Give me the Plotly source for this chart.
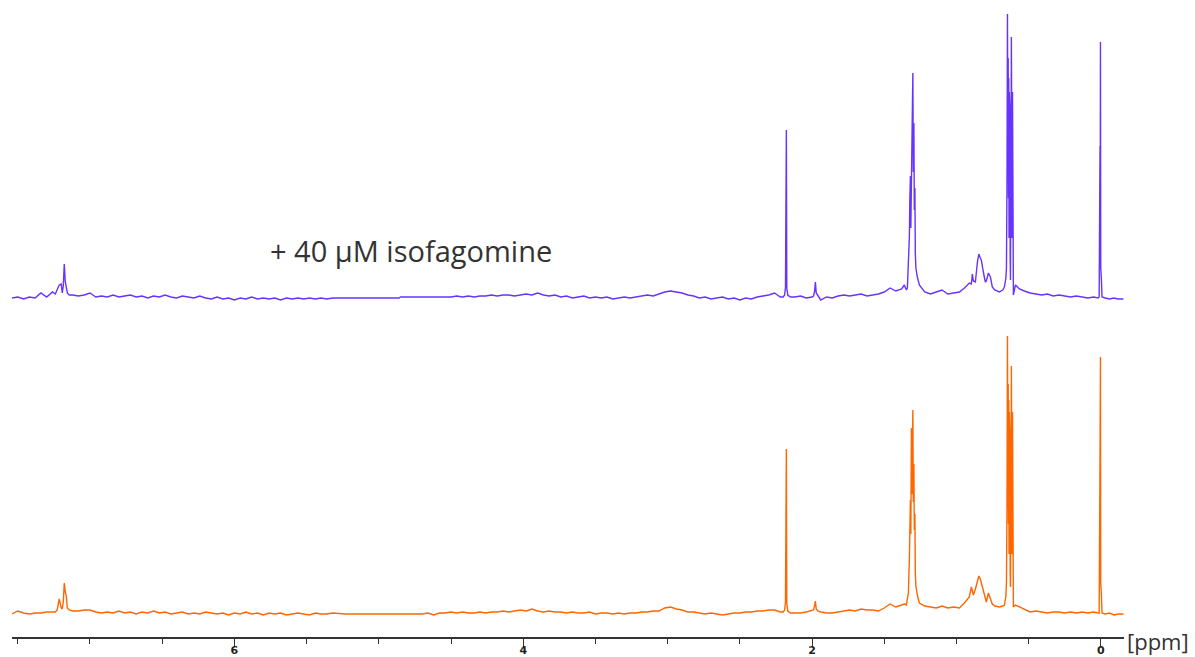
import plotly.graph_objects as go

# 1H NMR spectra: upper trace with 40 µM isofagomine, lower trace reference.
# Chemical shift (ppm) grid, shared by both traces, split by spectral region.
# Intensities are in arbitrary units above each trace's baseline.

# aromatic / CHCl3 region
ppm_arom = [7.54, 7.50, 7.46, 7.42, 7.38, 7.34, 7.30, 7.26, 7.24, 7.227, 7.213, 7.199,
            7.192, 7.185, 7.178, 7.171, 7.164, 7.157, 7.143, 7.12, 7.08, 7.04, 7.00, 6.96]
top_arom = [0, 1, -1, 1, 0, 5, 1, 6, 4, 9, 13, 14, 5, 12, 34, 16, 8, 5, 3, 3, 2, 3, 5, 1]
bot_arom = [0, 3, 1, 0, 1, 1, 2, 2, 2, 4, 15, 6, 5, 12, 31, 22, 18, 6, 4, 3, 3, 4, 4, 2]

# 6.9 - 5.4 ppm baseline
ppm_olef = [6.92, 6.88, 6.84, 6.80, 6.76, 6.72, 6.68, 6.64, 6.60, 6.56,
            6.52, 6.48, 6.44, 6.40, 6.36, 6.32, 6.28, 6.24, 6.20, 6.16,
            6.12, 6.08, 6.04, 6.00, 5.96, 5.92, 5.88, 5.84, 5.80, 5.76,
            5.72, 5.68, 5.64, 5.60, 5.56, 5.52, 5.48, 5.44, 5.40, 5.36]
top_olef = [2, 1, 3, 1, 2, 3, 1, 2, 0, 2,
            1, 3, 1, 0, 2, 1, 0, 2, 0, -1,
            1, -1, 0, -2, 0, -1, 1, -1, 0, -1,
            0, -2, 0, -1, 0, -1, 0, -1, 0, -1]
bot_olef = [1, 2, 1, 3, 1, 2, 0, 2, 1, 3,
            1, 2, 0, 1, 2, 0, 1, 0, 2, 1,
            0, 1, -1, 1, 0, 2, 0, 1, -1, 1,
            0, 1, -1, 0, 1, 0, -1, 1, 0, 0]

# suppressed water region
ppm_water = [5.32, 5.23, 4.86, 4.85, 4.70, 4.66, 4.62, 4.58]
top_water = [0, 0, 0, 1, 1, 1, 1, 1]
bot_water = [1, 0, 0, 0, 0, 1, -1, 1]

# 4.5 - 3.1 ppm
ppm_mid = [4.54, 4.50, 4.46, 4.42, 4.38, 4.34, 4.30, 4.26, 4.22, 4.18,
           4.14, 4.10, 4.06, 4.02, 3.98, 3.94, 3.90, 3.86, 3.82, 3.78,
           3.74, 3.70, 3.66, 3.62, 3.58, 3.54, 3.50, 3.46, 3.42, 3.38,
           3.34, 3.30, 3.26, 3.22, 3.18, 3.14, 3.10, 3.06]
top_mid = [1, 1, 2, 1, 2, 1, 2, 2, 3, 2,
           3, 3, 2, 3, 4, 3, 5, 3, 2, 3,
           1, 2, 0, 1, 2, 0, 1, 0, 1, -1,
           0, 1, 0, 1, 2, 3, 2, 4]
bot_mid = [1, 2, 1, 2, 1, 1, 2, 1, 2, 2,
           3, 2, 3, 4, 3, 5, 3, 2, 3, 2,
           2, 1, 2, 1, 1, 2, 0, 1, 1, 0,
           1, 0, 1, 1, 2, 2, 3, 3]

# 3.0 - 2.2 ppm
ppm_hump = [3.02, 2.98, 2.94, 2.90, 2.86, 2.82, 2.78, 2.74, 2.70, 2.66,
            2.62, 2.58, 2.54, 2.50, 2.46, 2.42, 2.38, 2.34, 2.30, 2.26, 2.22]
top_hump = [6, 7, 6, 5, 3, 2, 0, 1, -1, 0, 1, -1, 0, -2, 0, -1, 1, 2, 3, 5, 1]
bot_hump = [6, 7, 5, 4, 2, 2, 1, 0, 1, 0, -1, 0, 1, 1, 2, 2, 3, 3, 4, 4, 2]

# singlet at 2.18 ppm
ppm_s218 = [2.20, 2.190, 2.184, 2.181, 2.178, 2.175, 2.168, 2.15]
top_s218 = [1, 3, 11, 168, 168, 10, 3, 1]
bot_s218 = [2, 4, 12, 165, 165, 11, 3, 1]

# 2.1 - 1.4 ppm
ppm_alk = [2.12, 2.08, 2.04, 2.00, 1.99, 1.983, 1.977, 1.971, 1.96, 1.94,
           1.90, 1.86, 1.82, 1.78, 1.74, 1.70, 1.66, 1.62, 1.58, 1.54,
           1.50, 1.46, 1.42, 1.38]
top_alk = [1, 2, 0, 1, 2, 6, 16, 5, 2, -2,
           1, 0, 2, 3, 2, 3, 4, 2, 3, 4,
           6, 10, 7, 9]
bot_alk = [1, 1, 2, 3, 4, 8, 13, 5, 3, 2,
           1, 1, 2, 3, 4, 3, 5, 4, 4, 3,
           6, 10, 7, 9]

# multiplet at 1.30 ppm
ppm_m130 = [1.361, 1.347, 1.340, 1.333, 1.326, 1.323, 1.319, 1.316, 1.312, 1.309,
            1.305, 1.302, 1.299, 1.295, 1.292, 1.288, 1.285, 1.281, 1.271, 1.257]
top_m130 = [13, 8, 10, 30, 62, 98, 122, 70, 122, 170,
            208, 225, 126, 175, 88, 110, 45, 30, 21, 13]
bot_m130 = [10, 9, 14, 21, 57, 90, 114, 80, 186, 120,
            170, 204, 112, 150, 84, 100, 41, 28, 19, 11]

# 1.2 - 0.66 ppm, broad signal near 0.85 ppm
ppm_broad = [1.22, 1.18, 1.14, 1.10, 1.06, 1.02, 0.98, 0.945, 0.925, 0.911,
             0.897, 0.890, 0.883, 0.869, 0.855, 0.845, 0.835, 0.828, 0.814, 0.800,
             0.793, 0.779, 0.765, 0.752, 0.735, 0.703, 0.680, 0.668, 0.658]
top_broad = [6, 4, 6, 8, 4, 5, 6, 10, 13, 15,
             14, 24, 17, 16, 36, 44, 40, 38, 26, 16,
             17, 25, 21, 11, 8, 6, 8, 11, 20]
bot_broad = [8, 7, 6, 8, 6, 7, 6, 11, 14, 17,
             27, 22, 19, 25, 32, 38, 35, 31, 22, 15,
             12, 21, 16, 10, 8, 7, 8, 9, 18]

# multiplet at 0.63 ppm
ppm_m063 = [0.654, 0.650, 0.647, 0.644, 0.642, 0.640, 0.638, 0.636, 0.634, 0.632, 0.630,
            0.628, 0.626, 0.624, 0.622, 0.620, 0.618, 0.616, 0.614, 0.612, 0.610, 0.606]
top_m063 = [30, 120, 284, 150, 240, 100, 220, 60, 206, 80, 190,
            40, 18, 110, 60, 261, 110, 200, 60, 206, 30, 3]
bot_m063 = [31, 110, 278, 140, 230, 90, 214, 60, 202, 70, 180,
            40, 27, 100, 60, 248, 100, 190, 60, 202, 30, 7]

# 0.6 - 0.0 ppm
ppm_high = [0.592, 0.564, 0.53, 0.49, 0.45, 0.41, 0.37, 0.33, 0.29, 0.25,
            0.21, 0.17, 0.13, 0.09, 0.05, 0.02]
top_high = [13, 9, 7, 5, 4, 3, 4, 2, 3, 2, 1, 2, 1, 0, 1, 0]
bot_high = [9, 7, 5, 2, 3, 2, 1, 2, 2, 1, 2, 1, 2, 1, 2, 1]

# TMS reference
ppm_tms = [0.012, 0.006, 0.005, 0.003, 0.001, -0.003, -0.008]
top_tms = [1, 152, 40, 256, 30, 20, 1]
bot_tms = [1, 154, 40, 257, 30, 21, 1]

# upfield of TMS
ppm_end = [-0.03, -0.06, -0.09, -0.12, -0.156]
top_end = [0, -1, 0, -1, -1]
bot_end = [0, 1, -1, 0, 0]

regions = [
    (ppm_arom, top_arom, bot_arom),
    (ppm_olef, top_olef, bot_olef),
    (ppm_water, top_water, bot_water),
    (ppm_mid, top_mid, bot_mid),
    (ppm_hump, top_hump, bot_hump),
    (ppm_s218, top_s218, bot_s218),
    (ppm_alk, top_alk, bot_alk),
    (ppm_m130, top_m130, bot_m130),
    (ppm_broad, top_broad, bot_broad),
    (ppm_m063, top_m063, bot_m063),
    (ppm_high, top_high, bot_high),
    (ppm_tms, top_tms, bot_tms),
    (ppm_end, top_end, bot_end),
]

ppm, top_trace, bottom_trace = [], [], []
for p, a, b in regions:
    assert len(p) == len(a) == len(b), (p[0], len(p), len(a), len(b))
    ppm += p
    top_trace += a
    bottom_trace += b

label_top = "+ 40 µM isofagomine"
axis_unit = "[ppm]"

fig = go.Figure()
fig.add_trace(go.Scatter(x=ppm, y=bottom_trace, mode="lines", xaxis="x", yaxis="y",
                         line=dict(color="#ff6600", width=1.4), hoverinfo="skip"))
fig.add_trace(go.Scatter(x=ppm, y=top_trace, mode="lines", xaxis="x", yaxis="y2",
                         line=dict(color="#6633ff", width=1.4), hoverinfo="skip"))

fig.update_layout(
    width=1195, height=657,
    margin=dict(l=12, r=71, t=0, b=20, autoexpand=False),
    paper_bgcolor="white", plot_bgcolor="white",
    showlegend=False,
    xaxis=dict(
        range=[7.54, -0.16], anchor="y", automargin=False,
        tick0=0, dtick=2,
        ticks="outside", ticklen=8, tickwidth=1.2, tickcolor="#333",
        ticklabelstandoff=-6,
        showline=True, linecolor="#333", linewidth=1.5,
        showgrid=False, zeroline=False,
        tickfont=dict(family="DejaVu Sans", size=11, color="#222", weight="bold"),
        minor=dict(tick0=0, dtick=0.5, ticks="outside", ticklen=5,
                   tickwidth=1.2, tickcolor="#333", showgrid=False),
    ),
    yaxis=dict(domain=[0, 323 / 637], range=[-23, 300], visible=False),
    yaxis2=dict(domain=[314 / 637, 1], range=[-25, 298], visible=False),
    annotations=[
        dict(text=label_top, xref="paper", yref="paper", x=0.230, y=0.606,
             xanchor="left", yanchor="middle", showarrow=False,
             font=dict(family="Open Sans", size=29, color="#333")),
        dict(text=axis_unit, xref="paper", yref="paper", x=1, y=0,
             xanchor="left", yanchor="middle", xshift=1, yshift=-4, showarrow=False,
             font=dict(family="Open Sans", size=22, color="#333")),
    ],
)

fig.write_html("out.html")
